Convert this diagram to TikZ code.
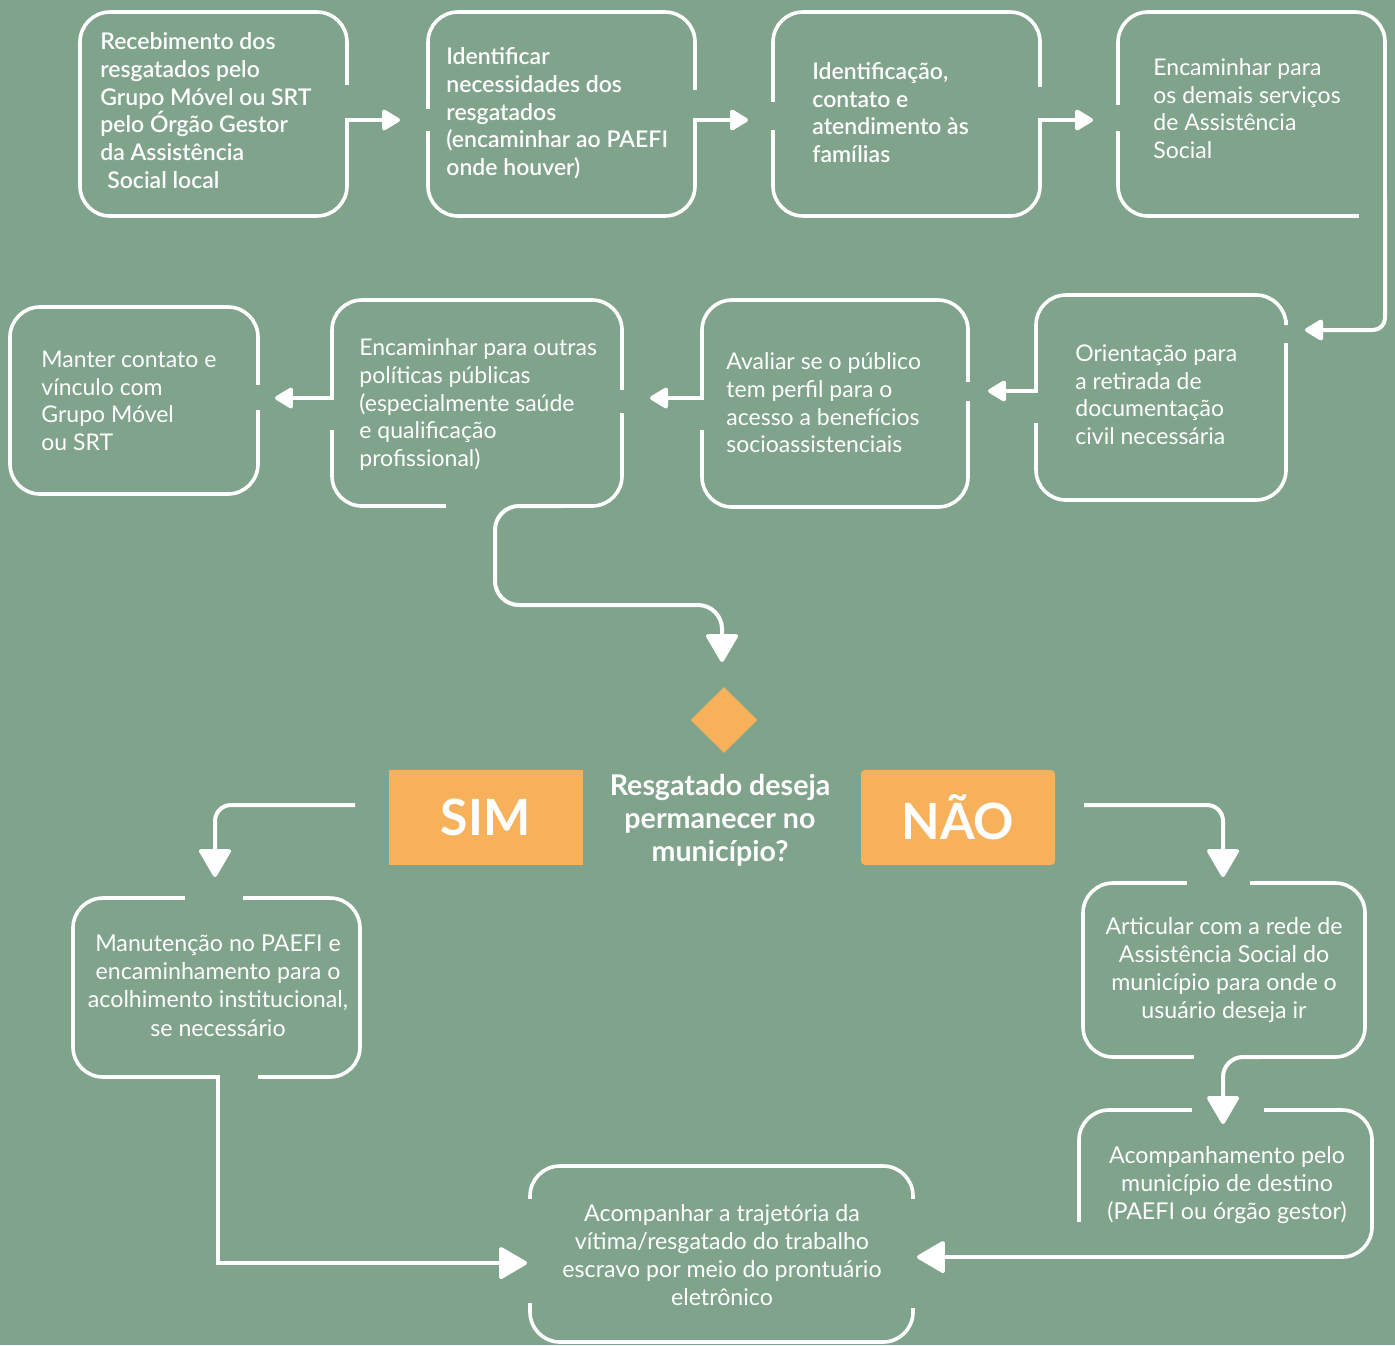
\documentclass[tikz,border=0pt]{standalone}
\usepackage{fontspec}
\setmainfont{Lato}
\newfontfamily\lightfont{Lato}
\IfFontExistsTF{Lato Semibold}{\newfontfamily\semifont{Lato Semibold}}{\newcommand\semifont{\bfseries}}
\usetikzlibrary{arrows.meta,shapes.geometric}
\definecolor{bggreen}{RGB}{128,163,140}
\definecolor{accent}{RGB}{247,177,91}

\begin{document}
\begin{tikzpicture}[x=0.5pt,y=-0.5pt,
  frame/.style={draw=white,line width=1.8pt,rounded corners=15pt,line cap=rect},
  flow/.style={draw=white,line width=2pt,line cap=rect,-{Triangle[length=10pt,width=11.5pt,round]}},
  bigflow/.style={draw=white,line width=2pt,line cap=rect,-{Triangle[length=15pt,width=17pt,round]}},
  semi/.style={text=white,inner sep=0pt,align=left,anchor=west,font=\semifont\fontsize{11.5}{13.85}\selectfont},
  light/.style={text=white,inner sep=0pt,align=left,anchor=west,font=\lightfont\fontsize{11.5}{13.8}\selectfont},
  lightc/.style={light,align=center,anchor=center,font=\lightfont\fontsize{11.6}{14.1}\selectfont},
  answer/.style={fill=accent,text=white,inner sep=0pt,minimum width=97pt,minimum height=47.5pt,font=\bfseries\fontsize{25}{30}\selectfont}]
\useasboundingbox (0,0) rectangle (1395,1345);
\fill[bggreen] (0,0) rectangle (1395,1345);

\node[semi] (recv) at (100,110.5) {Recebimento dos\\resgatados pelo\\Grupo Móvel ou SRT\\pelo Órgão Gestor\\da Assistência\\\hspace*{0.3em}Social local};
\node[semi] (ident) at (446,113.5) {Identificar\\necessidades dos\\resgatados\\(encaminhar ao PAEFI\\onde houver)};
\node[semi] (famil) at (812,112.5) {Identificação,\\contato e\\atendimento às\\famílias};
\node[light] (demais) at (1153,108.5) {Encaminhar para\\os demais serviços\\de Assistência\\Social};
\node[light] (orient) at (1075,394.5) {Orientação para\\a retirada de\\documentação\\civil necessária};
\node[light] (aval) at (726,403) {Avaliar se o público\\tem perfil para o\\acesso a benefícios\\socioassistenciais};
\node[light] (outras) at (359,404.5) {Encaminhar para outras\\políticas públicas\\(especialmente saúde\\e qualificação\\profissional)};
\node[light] (manter) at (41,401) {Manter contato e\\vínculo com\\Grupo Móvel\\ou SRT};
\node[diamond,fill=accent,inner sep=0pt,minimum width=33.5pt,minimum height=33pt] (choice) at (724,720) {};
\node[answer] (sim) at (485.5,817.5) {SIM};
\node[answer,rounded corners=2pt] (nao) at (958,817.5) {NÃO};
\node[text=white,inner sep=0pt,align=center,font=\bfseries\fontsize{14.3}{16.5}\selectfont] (quest) at (720,820) {Resgatado deseja\\permanecer no\\município?};
\node[lightc] (manut) at (218,985.5) {Manutenção no PAEFI e\\encaminhamento para o\\acolhimento institucional,\\se necessário};
\node[lightc] (artic) at (1224,970) {Articular com a rede de\\Assistência Social do\\município para onde o\\usuário deseja ir};
\node[lightc] (destino) at (1227,1185) {Acompanhamento pelo\\município de destino\\(PAEFI ou órgão gestor)};
\node[lightc] (traj) at (722,1255) {Acompanhar a trajetória da\\vítima/resgatado do trabalho\\escravo por meio do prontuário\\eletrônico};

\coordinate (recv-e) at (347,120);
\coordinate (ident-w) at (400,120);
\coordinate (ident-e) at (695,120);
\coordinate (famil-w) at (748,120);
\coordinate (famil-e) at (1040,120);
\coordinate (demais-w) at (1093,120);
\coordinate (demais-e) at (1385,200);
\coordinate (orient-e) at (1305,330);
\coordinate (orient-w) at (1036,391);
\coordinate (aval-e) at (988,391);
\coordinate (aval-w) at (702,398);
\coordinate (outras-e) at (650,398);
\coordinate (outras-w) at (332,398);
\coordinate (manter-e) at (275,398);
\coordinate (outras-s) at (560,506);
\coordinate (choice-n) at (722,662);
\coordinate (sim-w) at (353,805);
\coordinate (nao-e) at (1086,805);
\coordinate (manut-n) at (215,877);
\coordinate (artic-n) at (1223,877);
\coordinate (manut-s) at (218,1077);
\coordinate (artic-s) at (1260,1057);
\coordinate (destino-n) at (1223,1124);
\coordinate (destino-s) at (1200,1257);
\coordinate (traj-w) at (527,1263);
\coordinate (traj-e) at (917,1257);

\draw[frame] (347,83) -- (347,12) -- (80,12) -- (80,216) -- (347,216) -- (recv-e);
\draw[frame] (428,107) -- (428,12) -- (695,12) -- (695,88);
\draw[frame] (428,133) -- (428,216) -- (695,216) -- (ident-e);
\draw[frame] (773,100) -- (773,12) -- (1040,12) -- (1040,85);
\draw[frame] (773,132) -- (773,216) -- (1040,216) -- (famil-e);
\draw[frame] (1118,103) -- (1118,12) -- (1385,12) -- (demais-e);
\draw[frame] (1118,133) -- (1118,216) -- (1357,216);
\draw[frame] (1286,322) -- (1286,295) -- (1036,295) -- (orient-w);
\draw[frame] (1036,425) -- (1036,500) -- (1286,500) -- (1286,345);
\draw[frame] (968,380) -- (968,300) -- (702,300) -- (aval-w);
\draw[frame] (702,432) -- (702,507) -- (968,507) -- (968,403);
\draw[frame] (622,388) -- (622,300) -- (332,300) -- (outras-w);
\draw[frame] (332,432) -- (332,506) -- (444,506);
\draw[frame] (622,415) -- (622,506) -- (outras-s);
\draw[frame] (258,383) -- (258,307) -- (10,307) -- (10,494) -- (258,494) -- (258,412);
\draw[frame] (183,898) -- (73,898) -- (73,1077) -- (manut-s);
\draw[frame] (245,898) -- (360,898) -- (360,1077) -- (260,1077);
\draw[frame] (1185,883) -- (1083,883) -- (1083,1057) -- (1192,1057);
\draw[frame] (1252,883) -- (1365,883) -- (1365,1057) -- (artic-s);
\draw[frame] (1190,1110) -- (1079,1110) -- (1079,1220);
\draw[frame] (1266,1110) -- (1372,1110) -- (1372,1257) -- (destino-s);
\draw[frame] (530,1197) -- (530,1166) -- (913,1166) -- (913,1197);
\draw[frame] (530,1305) -- (530,1342) -- (913,1342) -- (913,1310);

\draw[flow] (recv-e) -- (ident-w);
\draw[flow] (ident-e) -- (famil-w);
\draw[flow] (famil-e) -- (demais-w);
\draw[flow,rounded corners=6pt] (demais-e) -- (1385,330) -- (orient-e);
\draw[flow] (orient-w) -- (aval-e);
\draw[flow] (aval-w) -- (outras-e);
\draw[flow] (outras-w) -- (manter-e);
\draw[bigflow,rounded corners=12pt] (outras-s) -- (495,506) -- (495,605) -- (722,605) -- (choice-n);
\draw[bigflow,rounded corners=8pt] (sim-w) -- (215,805) -- (manut-n);
\draw[bigflow,rounded corners=8pt] (nao-e) -- (1223,805) -- (artic-n);
\draw[bigflow] (manut-s) -- (218,1263) -- (traj-w);
\draw[bigflow,rounded corners=10pt] (artic-s) -- (1223,1057) -- (destino-n);
\draw[bigflow] (destino-s) -- (traj-e);
\end{tikzpicture}
\end{document}
